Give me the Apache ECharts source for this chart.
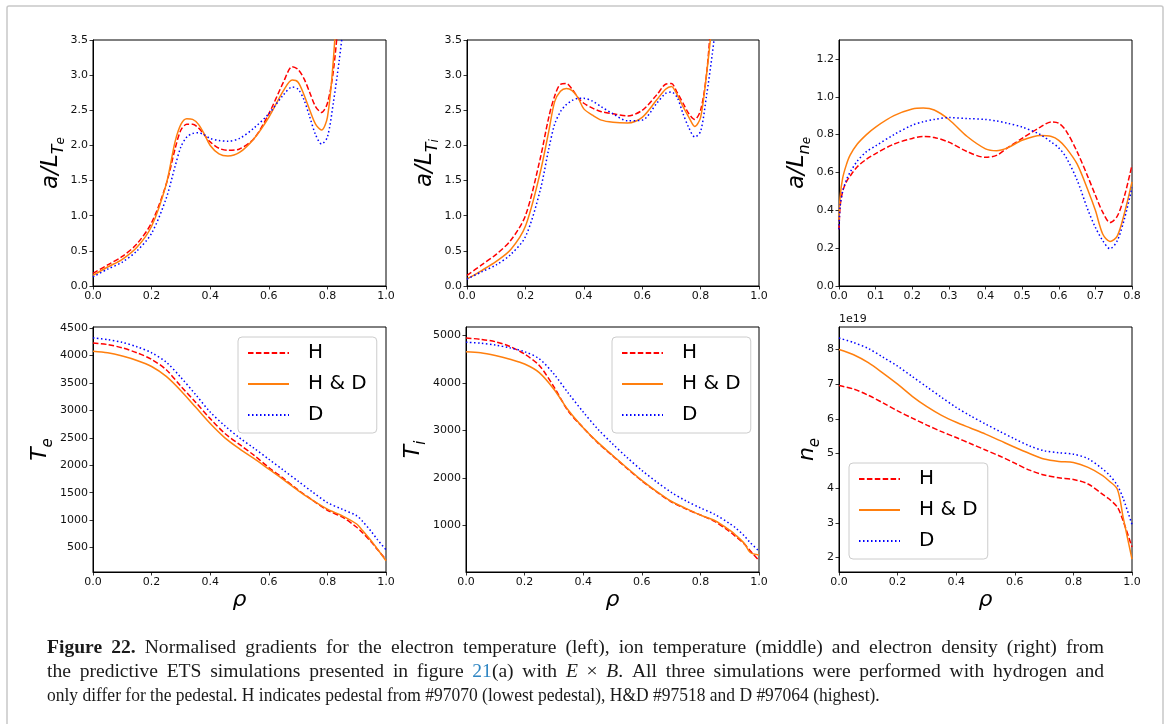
<!DOCTYPE html>
<html>
<head>
<meta charset="utf-8">
<title>Figure 22</title>
<script src="https://cdn.jsdelivr.net/npm/echarts@6/dist/echarts.min.js"></script>
<style>
  html, body { margin: 0; padding: 0; background: #fff; }
  #chart { width: 1165px; height: 724px; }
</style>
</head>
<body>
<div id="chart"></div>
<script>
// ---- top row: normalised gradients ----
var rhoGrad = [0, 0.05, 0.1, 0.15, 0.2, 0.25, 0.28, 0.3, 0.32, 0.34, 0.36, 0.38, 0.4, 0.43, 0.46, 0.5, 0.55, 0.6, 0.65, 0.68, 0.7, 0.72, 0.74, 0.76, 0.78, 0.8, 0.82, 0.84, 0.86];
var gTe_H  = [0.18, 0.30, 0.42, 0.60, 0.90, 1.45, 1.95, 2.22, 2.30, 2.30, 2.25, 2.15, 2.05, 1.96, 1.93, 1.95, 2.10, 2.45, 2.90, 3.12, 3.08, 2.95, 2.75, 2.55, 2.47, 2.60, 3.05, 3.90, 5.00];
var gTe_HD = [0.15, 0.27, 0.38, 0.55, 0.85, 1.45, 2.05, 2.30, 2.38, 2.37, 2.30, 2.16, 2.00, 1.88, 1.85, 1.90, 2.10, 2.40, 2.78, 2.93, 2.90, 2.72, 2.50, 2.30, 2.22, 2.40, 3.20, 4.50, 5.50];
var gTe_D  = [0.13, 0.24, 0.34, 0.50, 0.75, 1.25, 1.70, 1.98, 2.12, 2.17, 2.18, 2.15, 2.10, 2.07, 2.06, 2.10, 2.25, 2.45, 2.72, 2.83, 2.80, 2.65, 2.40, 2.15, 2.02, 2.12, 2.60, 3.20, 3.90];
var gTi_H  = [0.15, 0.30, 0.45, 0.65, 1.00, 1.80, 2.40, 2.70, 2.87, 2.88, 2.80, 2.68, 2.60, 2.53, 2.48, 2.45, 2.42, 2.50, 2.72, 2.87, 2.88, 2.75, 2.60, 2.45, 2.37, 2.50, 3.00, 4.00, 5.00];
var gTi_HD = [0.10, 0.22, 0.35, 0.52, 0.85, 1.60, 2.20, 2.62, 2.77, 2.81, 2.78, 2.68, 2.52, 2.43, 2.36, 2.33, 2.32, 2.40, 2.65, 2.80, 2.84, 2.72, 2.55, 2.40, 2.27, 2.40, 3.00, 3.80, 5.00];
var gTi_D  = [0.10, 0.20, 0.30, 0.45, 0.70, 1.35, 1.95, 2.30, 2.48, 2.58, 2.64, 2.67, 2.67, 2.63, 2.55, 2.45, 2.35, 2.36, 2.60, 2.74, 2.76, 2.68, 2.45, 2.25, 2.12, 2.20, 2.70, 3.30, 4.00];

var rhoGradNe = [0, 0.003, 0.01, 0.02, 0.03, 0.05, 0.075, 0.1, 0.15, 0.2, 0.23, 0.26, 0.3, 0.35, 0.4, 0.43, 0.46, 0.5, 0.55, 0.58, 0.6, 0.62, 0.65, 0.68, 0.7, 0.72, 0.74, 0.76, 0.78, 0.8];
var gNe_H  = [0.30, 0.42, 0.50, 0.55, 0.58, 0.63, 0.67, 0.70, 0.75, 0.78, 0.79, 0.785, 0.76, 0.71, 0.68, 0.69, 0.73, 0.78, 0.84, 0.867, 0.86, 0.82, 0.71, 0.575, 0.48, 0.39, 0.335, 0.37, 0.48, 0.64];
var gNe_HD = [0.35, 0.47, 0.57, 0.64, 0.69, 0.75, 0.80, 0.84, 0.90, 0.935, 0.94, 0.93, 0.88, 0.79, 0.725, 0.715, 0.73, 0.77, 0.795, 0.79, 0.77, 0.73, 0.645, 0.505, 0.40, 0.275, 0.235, 0.265, 0.39, 0.55];
var gNe_D  = [0.30, 0.42, 0.50, 0.56, 0.60, 0.66, 0.71, 0.74, 0.80, 0.85, 0.868, 0.88, 0.89, 0.885, 0.88, 0.872, 0.86, 0.84, 0.80, 0.76, 0.73, 0.68, 0.56, 0.40, 0.31, 0.24, 0.197, 0.24, 0.36, 0.52];

// ---- bottom row: profiles ----
var rho = [0, 0.05, 0.1, 0.15, 0.2, 0.25, 0.3, 0.35, 0.4, 0.45, 0.5, 0.55, 0.6, 0.65, 0.7, 0.75, 0.8, 0.85, 0.9, 0.92, 0.95, 0.97, 1.0];
var te_H  = [4230, 4200, 4140, 4050, 3930, 3740, 3440, 3150, 2850, 2580, 2380, 2180, 1960, 1760, 1550, 1360, 1180, 1060, 870, 770, 600, 470, 280];
var te_HD = [4080, 4050, 3990, 3910, 3800, 3620, 3360, 3060, 2760, 2500, 2300, 2120, 1930, 1740, 1540, 1360, 1200, 1080, 930, 810, 620, 480, 260];
var te_D  = [4320, 4290, 4240, 4160, 4050, 3880, 3600, 3290, 2970, 2720, 2500, 2310, 2110, 1910, 1710, 1510, 1320, 1200, 1080, 980, 790, 650, 460];
var ti_H  = [4950, 4920, 4870, 4770, 4610, 4370, 3920, 3400, 3060, 2740, 2470, 2200, 1940, 1710, 1500, 1350, 1220, 1080, 870, 770, 610, 470, 260];
var ti_HD = [4660, 4640, 4580, 4500, 4400, 4220, 3870, 3420, 3060, 2750, 2480, 2210, 1950, 1720, 1510, 1360, 1220, 1100, 900, 800, 620, 430, 380];
var ti_D  = [4860, 4840, 4800, 4740, 4660, 4510, 4190, 3780, 3390, 3030, 2720, 2430, 2160, 1920, 1700, 1520, 1370, 1230, 1040, 950, 780, 640, 460];
// n_e in units of 1e19
var ne_H  = [6.96, 6.86, 6.68, 6.46, 6.23, 6.02, 5.82, 5.63, 5.46, 5.28, 5.10, 4.92, 4.72, 4.52, 4.38, 4.30, 4.25, 4.12, 3.82, 3.70, 3.45, 3.05, 2.30];
var ne_HD = [8.00, 7.85, 7.62, 7.32, 7.00, 6.65, 6.35, 6.10, 5.90, 5.73, 5.56, 5.37, 5.18, 5.00, 4.84, 4.77, 4.74, 4.60, 4.36, 4.22, 3.97, 3.15, 1.95];
var ne_D  = [8.33, 8.20, 8.03, 7.78, 7.52, 7.22, 6.92, 6.62, 6.33, 6.08, 5.85, 5.63, 5.42, 5.22, 5.08, 5.02, 4.98, 4.85, 4.55, 4.40, 4.08, 3.70, 2.95];

// tick labels
var xTicks10 = [0, 0.2, 0.4, 0.6, 0.8, 1.0];
var xTicks08 = [0, 0.1, 0.2, 0.3, 0.4, 0.5, 0.6, 0.7, 0.8];
var yTicksGradT = [0, 0.5, 1.0, 1.5, 2.0, 2.5, 3.0, 3.5];
var yTicksGradNe = [0, 0.2, 0.4, 0.6, 0.8, 1.0, 1.2];
var yTicksTe = [500, 1000, 1500, 2000, 2500, 3000, 3500, 4000, 4500];
var yTicksTi = [1000, 2000, 3000, 4000, 5000];
var yTicksNe = [2, 3, 4, 5, 6, 7, 8];

var names = ['H', 'H & D', 'D'];
var colors = ['#ff0000', '#ff7f0e', '#0000ff'];
var dashes = [[5.5, 2.4], 'solid', [1.5, 2.5]];

// caption, word by word ({b|..} bold, {lk|..} link, {i|..} italic)
var caption = [
  '{b|Figure} {b|22.} Normalised gradients for the electron temperature (left), ion temperature (middle) and electron density (right) from',
  'the predictive ETS simulations presented in figure {lk|21}(a) with {i|E} × {i|B}. All three simulations were performed with hydrogen and',
  'only differ for the pedestal. H indicates pedestal from #97070 (lowest pedestal), H&D #97518 and D #97064 (highest).'
];

var chart = echarts.init(document.getElementById('chart'));

function pairs(xs, ys) {
  return xs.map(function (x, i) { return [x, ys[i]]; });
}

var mathFont = 'DejaVu Sans';
var tickFont = { fontFamily: 'DejaVu Sans', fontSize: 11, color: '#111' };

function yName(main, sub, subsub, size) {
  var s = size || 22;
  var txt = '{m|' + main + '}{s|' + sub + '}' + (subsub ? '{ss|' + subsub + '}' : '');
  return {
    text: txt,
    rich: {
      m: { fontFamily: mathFont, fontStyle: 'italic', fontSize: s, lineHeight: 32, verticalAlign: 'middle', color: '#000' },
      s: { fontFamily: mathFont, fontStyle: 'italic', fontSize: Math.round(s * 0.7), lineHeight: 14, verticalAlign: 'bottom', color: '#000' },
      ss: { fontFamily: mathFont, fontStyle: 'italic', fontSize: Math.round(s * 0.5), lineHeight: 6, verticalAlign: 'bottom', color: '#000' }
    }
  };
}

var grids = [
  { left: 93, top: 40, width: 293, height: 246 },
  { left: 467, top: 40, width: 292, height: 246 },
  { left: 839, top: 40, width: 293, height: 246 },
  { left: 93, top: 327, width: 293, height: 245 },
  { left: 466, top: 327, width: 293, height: 245 },
  { left: 839, top: 327, width: 293, height: 245 }
].map(function (g) {
  g.show = true;
  g.borderColor = '#000';
  g.borderWidth = 1;
  g.backgroundColor = 'rgba(0,0,0,0)';
  return g;
});

function xAxis(idx, max, ticks, withName) {
  var a = {
    gridIndex: idx, type: 'value', min: 0, max: max,
    splitLine: { show: false },
    axisLine: { show: true, onZero: false, lineStyle: { color: '#000', width: 1 } },
    axisTick: { show: true, length: 3.5, customValues: ticks, lineStyle: { color: '#000', width: 0.8 } },
    axisLabel: Object.assign({ margin: 5, customValues: ticks, formatter: function (v) { return v.toFixed(1); } }, tickFont)
  };
  if (withName) {
    a.name = 'ρ';
    a.nameLocation = 'middle';
    a.nameGap = 10;
    a.nameTextStyle = { fontFamily: mathFont, fontStyle: 'italic', fontSize: 22, color: '#000' };
  }
  return a;
}

function yAxis(idx, min, max, ticks, fmt, nm, gap) {
  return {
    gridIndex: idx, type: 'value', min: min, max: max,
    splitLine: { show: false },
    axisLine: { show: true, onZero: false, lineStyle: { color: '#000', width: 1 } },
    axisTick: { show: true, length: 3.5, customValues: ticks, lineStyle: { color: '#000', width: 0.8 } },
    axisLabel: Object.assign({ margin: 5, customValues: ticks, formatter: fmt }, tickFont),
    name: nm.text,
    nameLocation: 'middle',
    nameGap: gap,
    nameTextStyle: { rich: nm.rich }
  };
}

var f1 = function (v) { return v.toFixed(1); };
var f0 = function (v) { return String(Math.round(v)); };

var panels = [
  { x: rhoGrad, ys: [gTe_H, gTe_HD, gTe_D] },
  { x: rhoGrad, ys: [gTi_H, gTi_HD, gTi_D] },
  { x: rhoGradNe, ys: [gNe_H, gNe_HD, gNe_D] },
  { x: rho, ys: [te_H, te_HD, te_D] },
  { x: rho, ys: [ti_H, ti_HD, ti_D] },
  { x: rho, ys: [ne_H, ne_HD, ne_D] }
];

var series = [];
panels.forEach(function (p, gi) {
  p.ys.forEach(function (ys, k) {
    series.push({
      name: names[k],
      type: 'line',
      xAxisIndex: gi,
      yAxisIndex: gi,
      data: pairs(p.x, ys),
      symbol: 'none',
      smooth: 0.3,
      clip: true,
      color: colors[k],
      lineStyle: { color: colors[k], width: 1.5, type: dashes[k] },
      z: 2 + k
    });
  });
});

function legend(left, top) {
  return {
    data: names,
    orient: 'vertical',
    left: left, top: top,
    itemWidth: 41, itemHeight: 20, itemGap: 11,
    padding: [6, 10, 8, 9],
    backgroundColor: 'rgba(255,255,255,0.85)',
    borderColor: '#cccccc', borderWidth: 1, borderRadius: 4,
    selectedMode: false,
    itemStyle: { color: 'rgba(0,0,0,0)', borderWidth: 0, opacity: 0 },
    textStyle: { fontFamily: 'DejaVu Sans', fontSize: 20, color: '#000', padding: [0, 0, 0, 14] }
  };
}

// caption laid out word by word; the first two lines are justified
var capFont = 'Liberation Serif', capSize = 19, capLeft = 47, capRight = 1104;
var capSX = [1.03, 1.03, 0.92];
var capY = [648, 672, 696];
var capRich = {
  b: { fontFamily: capFont, fontWeight: 'bold', fontSize: capSize, fill: '#1a1a1a' },
  lk: { fontFamily: capFont, fontSize: capSize, fill: '#2f86c3' },
  i: { fontFamily: capFont, fontStyle: 'italic', fontSize: capSize, fill: '#1a1a1a' }
};
var measureCtx = document.createElement('canvas').getContext('2d');
function wordWidth(word, sx) {
  var re = /\{(\w+)\|([^}]*)\}|([^{]+)/g, m, w = 0;
  while ((m = re.exec(word))) {
    var st = m[1] || '', txt = m[1] ? m[2] : m[3];
    measureCtx.font = (st === 'i' ? 'italic ' : '') + (st === 'b' ? 'bold ' : '') + capSize + 'px "' + capFont + '"';
    w += measureCtx.measureText(txt).width;
  }
  return w * sx;
}
measureCtx.font = capSize + 'px "' + capFont + '"';
var spaceW = measureCtx.measureText(' ').width;
var captionGraphics = [];
caption.forEach(function (line, li) {
  var sx = capSX[li];
  var words = line.split(' ');
  var widths = words.map(function (w) { return wordWidth(w, sx); });
  var total = widths.reduce(function (a, b) { return a + b; }, 0);
  var gap = li < 2 ? Math.max(spaceW * sx, (capRight - capLeft - total) / (words.length - 1)) : spaceW * sx;
  var x = capLeft;
  words.forEach(function (w, wi) {
    captionGraphics.push({
      type: 'text', x: x, y: capY[li], scaleX: sx, silent: true,
      style: { text: w, fontFamily: capFont, fontSize: capSize, fill: '#1a1a1a', verticalAlign: 'middle', rich: capRich }
    });
    x += widths[wi] + gap;
  });
});

var option = {
  backgroundColor: '#fff',
  animation: false,
  grid: grids,
  xAxis: [
    xAxis(0, 1.0, xTicks10, false),
    xAxis(1, 1.0, xTicks10, false),
    xAxis(2, 0.8, xTicks08, false),
    xAxis(3, 1.0, xTicks10, true),
    xAxis(4, 1.0, xTicks10, true),
    xAxis(5, 1.0, xTicks10, true)
  ],
  yAxis: [
    yAxis(0, 0, 3.5, yTicksGradT, f1, yName('a/L', 'T', 'e', 23), 22),
    yAxis(1, 0, 3.5, yTicksGradT, f1, yName('a/L', 'T', 'i', 23), 22),
    yAxis(2, 0, 1.3, yTicksGradNe, f1, yName('a/L', 'n', 'e', 23), 22),
    yAxis(3, 55, 4520, yTicksTe, f0, yName('T', 'e', null, 22), 34),
    yAxis(4, 20, 5180, yTicksTi, f0, yName('T', 'i', null, 22), 27),
    yAxis(5, 1.58, 8.65, yTicksNe, f0, yName('n', 'e', null, 22), 14)
  ],
  legend: [legend(238, 337), legend(612, 337), legend(849, 463)],
  series: series,
  graphic: [
    {
      type: 'rect', silent: true,
      shape: { x: 7, y: 6, width: 1156, height: 740, r: 2 },
      style: { fill: 'none', stroke: '#c8c8c8', lineWidth: 1.5 }
    },
    {
      type: 'text', x: 839, y: 325,
      style: { text: '1e19', fontFamily: 'DejaVu Sans', fontSize: 11, fill: '#111', verticalAlign: 'bottom' }
    }
  ].concat(captionGraphics)
};

chart.setOption(option);
</script>
</body>
</html>
